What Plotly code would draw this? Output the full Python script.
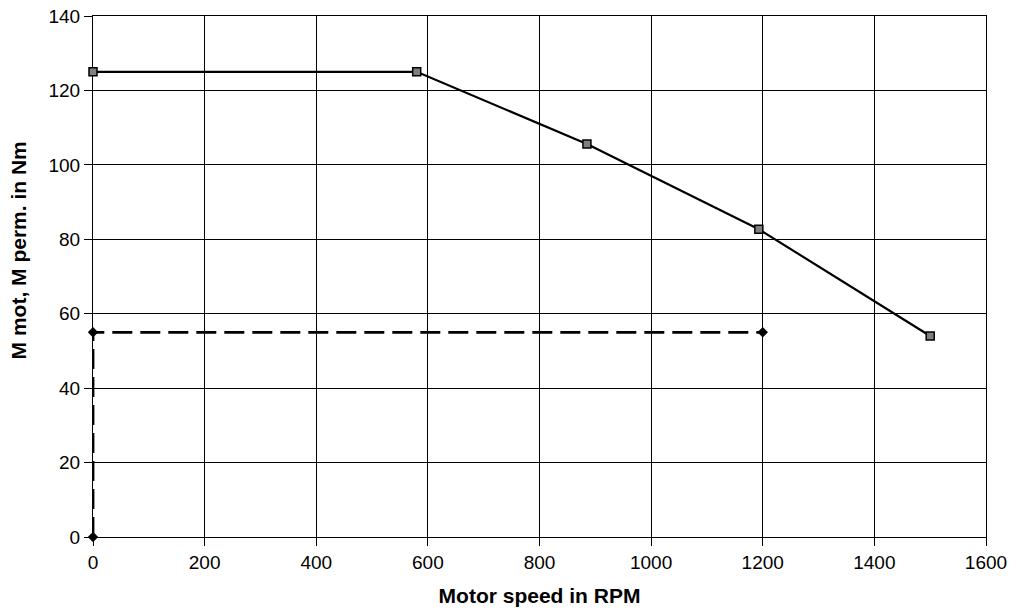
import plotly.graph_objects as go

# motor torque curve
speed_mot = [0, 580, 885, 1193, 1500]
torque_mot = [125, 125, 105.6, 82.7, 54]

# permanent torque (dashed)
speed_perm = [0, 0, 1200]
torque_perm = [0, 55, 55]

x_ticks = [0, 200, 400, 600, 800, 1000, 1200, 1400, 1600]
y_ticks = [0, 20, 40, 60, 80, 100, 120, 140]

fig = go.Figure()

fig.add_trace(go.Scatter(
    x=speed_perm, y=torque_perm, mode='lines+markers',
    line=dict(color='black', width=2.8, dash='20px,8px'),
    marker=dict(symbol='diamond', size=8, color='black'),
    cliponaxis=False, showlegend=False,
))
fig.add_trace(go.Scatter(
    x=speed_mot, y=torque_mot, mode='lines+markers',
    line=dict(color='black', width=2.2),
    marker=dict(symbol='square', size=8, color='#808080',
                line=dict(color='black', width=1.5)),
    cliponaxis=False, showlegend=False,
))

axis_common = dict(
    showgrid=True, gridcolor='black', gridwidth=1,
    showline=True, linecolor='black', linewidth=1, mirror=True,
    ticks='outside', ticklen=8, tickcolor='black',
    tickfont=dict(size=19, color='black'),
    zeroline=False, layer='below traces',
)

fig.update_xaxes(
    **axis_common, range=[0, 1600], tickvals=x_ticks,
    title=dict(text='<b>Motor speed in RPM</b>', font=dict(size=21, color='black'), standoff=16),
)
fig.update_yaxes(**axis_common, range=[0, 140], tickvals=y_ticks)

# y title as annotation so it can sit a bit above centre like the original
fig.add_annotation(
    text='<b>M mot, M perm. in Nm</b>', textangle=-90,
    xref='paper', yref='paper', x=-0.084, y=0.55,
    xanchor='center', yanchor='middle', showarrow=False,
    font=dict(size=21, color='black'),
)

fig.update_layout(
    width=1017, height=611,
    margin=dict(l=93, r=31, t=16, b=74, autoexpand=False),
    plot_bgcolor='white', paper_bgcolor='white',
    font=dict(family='Liberation Sans, Arial, sans-serif', color='black'),
)

# drop the default 8px page margin so the figure sits at the window's corner
fig.write_html("out.html", config={'displayModeBar': False},
               post_script="document.body.style.margin='0';")
